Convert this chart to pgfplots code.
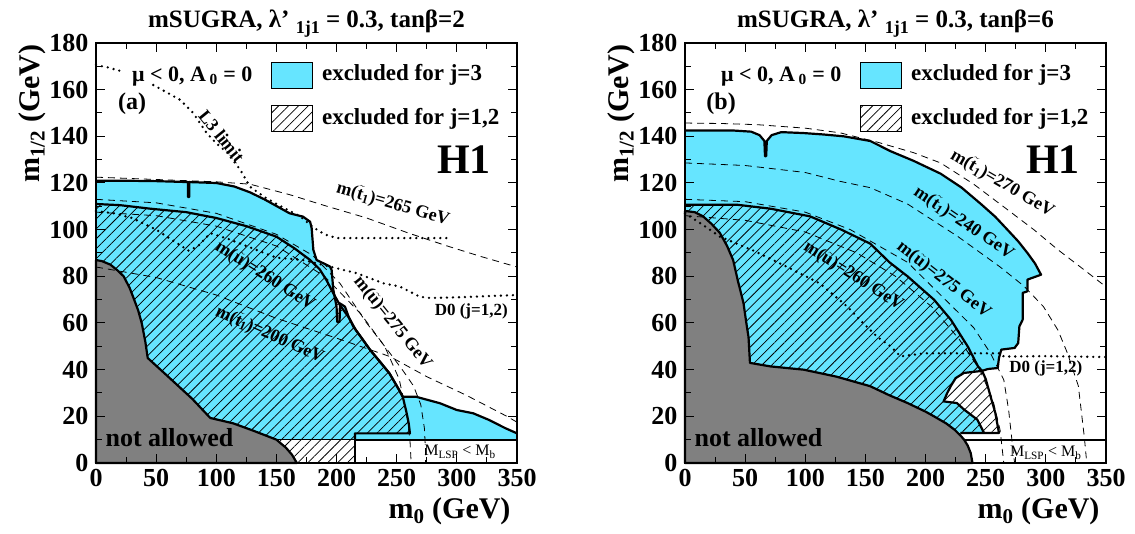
\documentclass[border=0pt]{standalone}
\usepackage{fontspec}
\setmainfont{Liberation Serif}
\usepackage{graphicx}
\usepackage{pgfplots}
\pgfplotsset{compat=1.18}
\usetikzlibrary{patterns.meta}
\definecolor{cyanx}{RGB}{102,229,255}
\definecolor{grayx}{RGB}{128,128,128}
\newcommand{\fs}[1]{\fontsize{#1}{#1}\selectfont\bfseries}
\newcommand{\tl}[1]{\ensuremath{\tilde{\hbox{#1}}}}
\tikzset{
  hatch/.style={pattern={Lines[angle=45,distance=7pt,line width=0.75pt]}, pattern color=black},
  bnd/.style={line width=2.2pt, line join=round},
  dsh/.style={line width=0.8pt, dash pattern=on 7pt off 5pt},
  dtt/.style={line width=2.6pt, line cap=round, dash pattern=on 0pt off 6pt},
}
\pgfplotsset{
 panel/.style={
  width=421pt,height=420pt,scale only axis,
  xmin=0,xmax=350,ymin=0,ymax=180,
  xtick={0,50,...,350}, ytick={0,20,...,180},
  minor x tick num=1, minor y tick num=1,
  tick align=inside, major tick length=9pt, minor tick length=6pt,
  every tick/.style={black,line width=1pt},
  axis line style={line width=1.6pt},
  ticklabel style={font=\fs{26}},
  /pgf/number format/assume math mode=true,
  xticklabel style={yshift=-3pt}, yticklabel style={xshift=-4pt},
  axis on top, clip=false,
 }
}
\newcommand{\common}[2]{%
 \addplot[fill=cyanx, draw=black, line width=1pt] coordinates {(146.3,160.7)(146.3,171.5)(179.6,171.5)(179.6,160.7)} -- cycle;
 \addplot[hatch, draw=black, line width=1pt] coordinates {(146.3,141.9)(146.3,153)(179.6,153)(179.6,141.9)} -- cycle;
 \node[anchor=west, font=\fs{23}] at (axis cs:185,166.3) {excluded for j=3};
 \node[anchor=west, font=\fs{23}] at (axis cs:185,147.4) {excluded for j=1,2};
 \node[font=\fs{22}] at (axis cs:80,165.5) {μ < 0, A\,\textsubscript{0} = 0};
 \node[font=\fs{24}] at (axis cs:30,154) {#1};
 \node[font=\fs{42}] at (axis cs:306,130) {H1};
 \node[font=\fs{26}, anchor=west] at (axis cs:5,10.7) {not allowed};
 \node[font=\fs{25}, anchor=base] at ([yshift=15pt]axis description cs:0.5,1) {mSUGRA, λ’ \raisebox{-6pt}{\fontsize{18}{18}\selectfont 1j1} = 0.3, tanβ=#2};
 \node[rotate=90, anchor=east, font=\fs{30}] at ([xshift=-64pt,yshift=2pt]axis description cs:0,1) {m\textsubscript{1/2} (GeV)};
 \node[anchor=base east, font=\fs{30}] at ([xshift=-3pt,yshift=-55pt]axis description cs:1,0) {m\textsubscript{0} (GeV)};
}
\begin{document}
\begin{tikzpicture}
\path[use as bounding box] (0,0) rectangle (1135pt,533pt);
% ================= LEFT PANEL =================
\begin{axis}[panel, at={(96pt,70pt)}, anchor=south west]
% cyan region j=3
\addplot[fill=cyanx, draw=none] coordinates {(0,10)(0,121)(20,121)(50,120.8)(76.5,120.4)(76.5,114)(77.5,114)(77.5,120.4)(100,120)(115,118.5)(128,116)(140,113)(147,111)(161,107)(172,105.6)(178,103.4)(179.3,100.6)(180.7,91.3)(183.4,87)(189,85.6)(194.5,84.2)(195.9,82.7)(197.3,74.2)(200,67)(200.5,60.5)(202.5,60.5)(202.8,68.4)(207,67)(210,62.7)(214,58.4)(221,53.5)(228,48.4)(236,43.5)(244,38.4)(252,31.3)(255,28.4)(266,28.4)(286,25.6)(300,22.7)(313.6,21.3)(327,18.4)(340,15)(350,12.7)(350,10)} -- cycle;
% hatched region j=1,2
\addplot[hatch, draw=none] coordinates {(0,111)(20,110.5)(45,109)(75,107.5)(100,105)(125,101.5)(150,97)(165,92)(178,87)(186,83)(192,78)(197,73)(203,67.5)(210,62.5)(216,57)(228,48.4)(244,38.4)(252,31.3)(255,28.4)(258,22)(260,17)(261,12.7)(215.3,12.7)(215.3,0)(0,0)} -- cycle;
% not allowed
\addplot[fill=grayx, draw=black, bnd] coordinates {(0,0)(0,87)(5,86.5)(12,85)(18,82.5)(23,80)(28,75)(31,71)(35,65.5)(38,60)(41,52)(43,45)(60,37)(80,27.5)(95,19.3)(114,17)(130,14)(150,10)(158,6.5)(163,3.5)(167,0)} -- cycle;
% M_LSP < M_b box
\addplot[fill=white, draw=none] coordinates {(215.3,0)(215.3,9.9)(350,9.9)(350,0)} -- cycle;
\addplot[bnd] coordinates {(215.3,0)(215.3,9.9)(350,9.9)};
\addplot[line width=1pt] coordinates {(150,10)(215.3,10)};
% outlines
\addplot[bnd] coordinates {(0,121)(20,121)(50,120.8)(76.5,120.4)(76.5,114)(77.5,114)(77.5,120.4)(100,120)(115,118.5)(128,116)(140,113)(147,111)(161,107)(172,105.6)(178,103.4)(179.3,100.6)(180.7,91.3)(183.4,87)(189,85.6)(194.5,84.2)(195.9,82.7)(197.3,74.2)(200,67)(200.5,60.5)(202.5,60.5)(202.8,68.4)(207,67)(210,62.7)(214,58.4)(221,53.5)(228,48.4)(236,43.5)(244,38.4)(252,31.3)(255,28.4)(266,28.4)(286,25.6)(300,22.7)(313.6,21.3)(327,18.4)(340,15)(350,12.7)};
\addplot[bnd] coordinates {(0,111)(20,110.5)(45,109)(75,107.5)(100,105)(125,101.5)(150,97)(165,92)(178,87)(186,83)(192,78)(197,73)(203,67.5)(210,62.5)(216,57)(228,48.4)(244,38.4)(252,31.3)(255,28.4)(258,22)(260,17)(261,12.7)(215.3,12.7)(215.3,9.9)};
% dashed contours
\addplot[dsh] coordinates {(0,122.5)(50,121.5)(100,120.5)(128,119.5)(161,115)(189,110.5)(225,105)(260,98.5)(292,93)(320,88.5)(350,84)};
\addplot[dsh] coordinates {(0,113)(50,111.5)(100,107)(150,98)(180,89)(202.8,77)(225,60)(244.5,47)(256,39)(264,33)(270,25)(273,15)(274,5)(274,0)};
\addplot[dsh] coordinates {(0,107.5)(50,106)(100,101.5)(150,93)(190,80)(220,64)(240,50)(252,36)(258,22)(261,10)(262,0)};
\addplot[dsh] coordinates {(0,84)(50,79.5)(100,72)(150,62)(200,53.5)(244.5,45.6)(275,37)(308,29)(341.6,20)(350,17.5)};
% dotted limits
\addplot[dtt] coordinates {(0,170.6)(10,169.5)(22.5,167.7)};
\addplot[dtt] coordinates {(47.6,162)(60,158.5)(70,155.6)(80.8,150)(92,141.4)(100,137)(109,133)(120,125.6)(128,118.4)(140,114)(150,111)(170,105.6)(180.6,101)(190,98)(200,96.4)(250,96.4)(291.6,96.4)};
\addplot[dtt] coordinates {(0,108)(15,107)(30,105)(50,100)(65,95)(77,91)(85,93)(95,98.5)(110,96)(130,92)(150,88)(172,87)(192,84.5)(217,81.3)(239,77)(252.6,75.6)(269,71.3)(277.6,70.7)(300,71)(325,71.5)(350,72)};
% labels
\node[font=\fs{18}, rotate=-16] at (axis cs:247,111) {m(\tl{t}\textsubscript{1})=265 GeV};
\node[font=\fs{18}, rotate=-32] at (axis cs:140.5,80) {m(\tl{u})=260 GeV};
\node[font=\fs{18}, rotate=-24] at (axis cs:144.6,55) {m(\tl{t}\textsubscript{1})=200 GeV};
\node[font=\fs{18}, rotate=-51] at (axis cs:246.5,60) {m(\tl{u})=275 GeV};
\node[font=\fs{18}, rotate=-51] at (axis cs:104.5,140) {L3 limit};
\node[font=\fs{17}] at (axis cs:312,65) {D0 (j=1,2)};
\node[font=\fontsize{16}{16}\selectfont] at (axis cs:302.6,4.9) {M\textsubscript{LSP} < M\textsubscript{b}};
\common{(a)}{2}
\end{axis}
% ================= RIGHT PANEL =================
\begin{axis}[panel, at={(685pt,70pt)}, anchor=south west]
\addplot[fill=cyanx, draw=none] coordinates {(0,108)(0,142.5)(20,142.5)(40,142.5)(55,142)(62,140.5)(66,138)(66.5,131.5)(67.5,131.5)(68,138)(72,140.5)(80,141.8)(98.6,141.4)(115,140.8)(132,140)(154,138)(171,133.6)(190,129.5)(212.5,124)(230,118)(246,111)(258,105.5)(268,100)(277,95)(284.7,90)(291,85.5)(296,80.7)(284.7,78.6)(284.7,73.6)(280.7,72.9)(280.7,61.4)(278,58.6)(277,51.4)(274,49.3)(263,48.6)(261,45)(260,40.7)(252,40.3)(247,39.5)(250,36)(254,28.6)(258,21.4)(261,12.9)(229,12.9)(224,14.3)(207,20)(185,25.7)(157,31.4)(126,37)(98.6,40)(71,41.4)(54,42.9)(52.8,54)(48.6,68.6)(40,87)(29,98.6)(15,105.7)} -- cycle;
% white pocket
\addplot[fill=white, draw=none] coordinates {(221,33)(225,36.4)(232,38.6)(244,39.3)(247,39)(250,36)(254,28.6)(258,21.4)(261,12.9)(248.6,12.9)(243,18.6)(232,22.9)(226,25.7)(215,26.4)(218,30)} -- cycle;
\addplot[hatch, draw=none] coordinates {(0,110.7)(43,110.7)(71,109)(104,105.7)(130,100)(154,94)(170,86)(185,80)(207,70)(221,61.4)(235,50)(243.6,41.4)(247,39.5)(250,36)(254,28.6)(258,21.4)(261,12.9)(229,12.9)(229,0)(0,0)} -- cycle;
\addplot[fill=grayx, draw=black, bnd] coordinates {(0,0)(0,108)(8,107.5)(15,105.7)(22,102.5)(29,98.6)(35,93)(40,87)(44,78)(48.6,68.6)(51,60)(52.8,54)(54,42.9)(71,41.4)(98.6,40)(126,37)(154,32.9)(170,29)(185,25.7)(200,22)(207,20)(217,17)(224,14.3)(229,11.8)(232,10)(235,7.5)(237.5,4.3)(239,0)} -- cycle;
% outlines
\addplot[bnd] coordinates {(0,142.5)(20,142.5)(40,142.5)(55,142)(62,140.5)(66,138)(66.5,131.5)(67.5,131.5)(68,138)(72,140.5)(80,141.8)(98.6,141.4)(115,140.8)(132,140)(154,138)(171,133.6)(190,129.5)(212.5,124)(230,118)(246,111)(258,105.5)(268,100)(277,95)(284.7,90)(291,85.5)(296,80.7)(284.7,78.6)(284.7,73.6)(280.7,72.9)(280.7,61.4)(278,58.6)(277,51.4)(274,49.3)(263,48.6)(261,45)(260,40.7)(252,40.3)(247,39.5)};
\addplot[bnd] coordinates {(248.6,12.9)(243,18.6)(232,22.9)(226,25.7)(215,26.4)(218,30)(221,33)(225,36.4)(232,38.6)(244,39.3)(247,39.5)};
\addplot[bnd] coordinates {(0,110.7)(43,110.7)(71,109)(104,105.7)(130,100)(154,94)(170,86)(185,80)(207,70)(221,61.4)(235,50)(243.6,41.4)(247,39.5)(250,36)(254,28.6)(258,21.4)(261,12.9)(229,12.9)};
\addplot[bnd] coordinates {(232,10)(350,10)};
% dashed contours
\addplot[dsh] coordinates {(0,145.7)(30,145.5)(60,145)(100,143.5)(129,141.5)(160,137.5)(190,133)(212.5,128.6)(240,119.5)(268,108.6)(290,100)(310,91.4)(330,83.5)(350,75.5)};
\addplot[dsh] coordinates {(0,128.6)(50,127.5)(100,124.5)(129,120.7)(154,118)(185,111)(227,97)(262,84)(282,75.7)(298,67)(310,57)(318,47)(327,33)(332,11)(334,0)};
\addplot[dsh] coordinates {(0,113)(50,112)(100,107.5)(137.5,100)(185,86)(212.5,72)(240,58)(254,47)(265,35.7)(269,22.9)(273,4.3)(274,0)};
\addplot[dsh] coordinates {(0,106)(50,104)(100,99)(143,90)(175,80)(205,67)(228,53)(245,40)(256,27)(262,14)(265,0)};
% dotted D0
\addplot[dtt] coordinates {(0,107)(15,102)(29,97)(57,91)(85,84)(112,77)(135,67)(146,61)(160,54)(171,50)(179,45.7)(199,47)(241,47)(263,47)(265,45.6)(300,45.8)(350,45.4)};
% labels
\node[font=\fs{18}, rotate=-30] at (axis cs:264,120) {m(\tl{t}\textsubscript{1})=270 GeV};
\node[font=\fs{18}, rotate=-34] at (axis cs:232,103) {m(\tl{t}\textsubscript{1})=240 GeV};
\node[font=\fs{18}, rotate=-38] at (axis cs:215,78.4) {m(\tl{u})=275 GeV};
\node[font=\fs{18}, rotate=-32] at (axis cs:140,80) {m(\tl{u})=260 GeV};
\node[font=\fs{17}] at (axis cs:300,40.7) {D0 (j=1,2)};
\node[font=\fontsize{16}{16}\selectfont] at (axis cs:300,4.3) {M\textsubscript{LSP} < M\textsubscript{b}};
\common{(b)}{6}
\end{axis}
\end{tikzpicture}
\end{document}
